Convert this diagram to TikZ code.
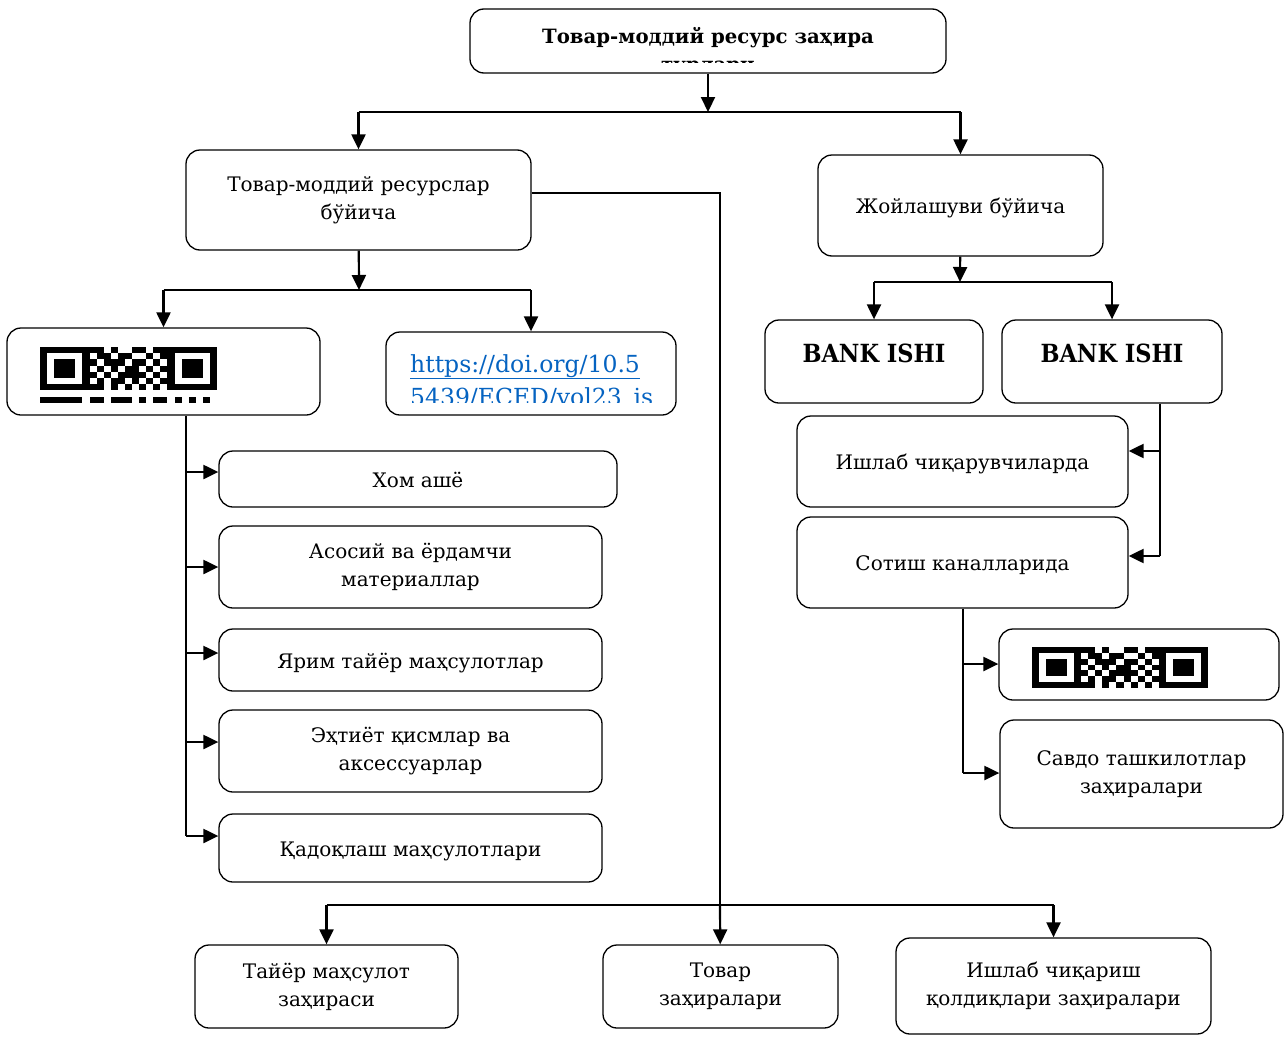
\documentclass[tikz,border=0pt]{standalone}
\usepackage{fontspec}
\setmainfont{DejaVu Serif}
\newfontfamily\condfont{DejaVu Serif Condensed}
\usetikzlibrary{arrows.meta}
\definecolor{doiblue}{HTML}{0563C1}
\tikzset{
	box/.style={draw, rounded corners=14pt, line width=1.3pt, align=center, inner sep=0pt},
	dims/.style 2 args={minimum width=#1pt, minimum height=#2pt},
	txt/.style={font=\fontsize{20}{28}\selectfont},
	oneline/.style={txt, text height=21pt, text depth=4.6pt},
	title/.style={font=\fontsize{19.7}{28}\selectfont\bfseries, align=center, inner sep=0pt},
	bank/.style={font=\condfont\fontsize{25}{30}\selectfont\bfseries, text height=18pt, text depth=16pt},
	link/.style={font=\fontsize{23.5}{33}\selectfont, text=doiblue, align=left, inner sep=0pt},
	arr/.style={line width=2.2pt, -{Triangle[length=15pt, width=14pt]}},
	trunk/.style={line width=2pt},
	thin/.style={line width=1.4pt},
}
\def\qrcells{7/0,8/0,10/0,13/0,14/0,16/0,17/0, 8/1,9/1,11/1,12/1,15/1,17/1, 7/2,9/2,10/2,11/2,13/2,14/2,16/2,
	8/3,10/3,12/3,13/3,15/3,17/3, 7/4,9/4,11/4,12/4,13/4,14/4,16/4, 8/5,10/5,11/5,13/5,15/5,17/5,
	7/6,8/6,10/6,12/6,14/6,16/6, 0/8,1/8,2/8,3/8,4/8,5/8,7/8,8/8,10/8,11/8,12/8,14/8,16/8,17/8,19/8,21/8,23/8}
\def\qrstrip(#1,#2)[#3,#4][#5]{%
	\begin{scope}[shift={(#1,#2)}, x=#3pt, y=-#4pt]
		\clip (0,0) rectangle (25,#5);
		\foreach \qx in {0,18}{
			\fill (\qx,0) rectangle ++(7,7);
			\fill[white] (\qx+1,1) rectangle ++(5,5);
			\fill (\qx+2,2) rectangle ++(3,3);
		}
		\foreach \qc/\qr in \qrcells
			\fill (\qc,\qr) rectangle ++(1,1);
	\end{scope}}

\begin{document}
\begin{tikzpicture}[x=1pt, y=-1pt]
	%%%%% START %%%%%
	\useasboundingbox (0,0) rectangle (1284,1036);
	
	\node[box, dims={476}{64}] (top) at (708,41) {};
	\begin{scope}
		\clip (472,11) rectangle (944,62);
		\node[title] (toptext) at (708,52) {Товар-моддий ресурс заҳира\\турлари};
	\end{scope}
	
	\node[box, txt, dims={345}{100}] (res) at (358.5,200) {Товар-моддий ресурслар\\бўйича};
	\node[box, oneline, dims={285}{101}] (loc) at (960.5,205.5) {Жойлашуви бўйича};
	
	\node[box, dims={313}{87}] (qra) at (163.5,371.5) {};
	\qrstrip(40,347)[7.08,6.2][8.87]
	
	\node[box, dims={290}{83}] (doi) at (531,373.5) {};
	\begin{scope}
		\clip (388,334) rectangle (674,402);
		\node[link, anchor=north west] (doitext) at (410,354) {\underline{https://doi.org/10.5}\\5439/ECED/vol23\_is};
	\end{scope}
	
	\node[box, bank, dims={218}{83}] (bank1) at (874,361.5) {BANK ISHI};
	\node[box, bank, dims={220}{83}] (bank2) at (1112,361.5) {BANK ISHI};
	\node[box, oneline, dims={331}{91}] (maker) at (962.5,461.5) {Ишлаб чиқарувчиларда};
	\node[box, oneline, dims={331}{91}] (sales) at (962.5,562.5) {Сотиш каналларида};
	\node[box, dims={280}{71}] (qrb) at (1139,664.5) {};
	\qrstrip(1032,647)[7.04,5.86][7]
	\node[box, txt, dims={283}{108}] (trade) at (1141.5,774) {Савдо ташкилотлар\\заҳиралари};
	
	\node[box, oneline, dims={398}{56}] (raw) at (418,479) {Хом ашё};
	\node[box, txt, dims={383}{82}] (aux) at (410.5,567) {Асосий ва ёрдамчи\\материаллар};
	\node[box, oneline, dims={383}{62}] (semi) at (410.5,660) {Ярим тайёр маҳсулотлар};
	\node[box, txt, dims={383}{82}] (spare) at (410.5,751) {Эҳтиёт қисмлар ва\\аксессуарлар};
	\node[box, oneline, dims={383}{68}] (pack) at (410.5,848) {Қадоқлаш маҳсулотлари};
	
	\node[box, txt, dims={263}{83}] (fin) at (326.5,986.5) {Тайёр маҳсулот\\заҳираси};
	\node[box, txt, dims={235}{83}] (stock) at (720.5,986.5) {Товар\\заҳиралари};
	\node[box, txt, dims={315}{96}] (waste) at (1053.5,986) {Ишлаб чиқариш\\қолдиқлари заҳиралари};
	
	% junctions
	\coordinate (j1) at (708,112);
	\coordinate (j2) at (359,290);
	\coordinate (j3) at (720,193);
	\coordinate (j4) at (720,905);
	\coordinate (j5) at (960,282);
	\coordinate (r1) at (1160,451);
	\coordinate (r2) at (1160,556);
	\coordinate (s1) at (963,664);
	\coordinate (s2) at (963,773);
	\coordinate (l1) at (186,472);
	\coordinate (l2) at (186,567);
	\coordinate (l3) at (186,653);
	\coordinate (l4) at (186,742);
	\coordinate (l5) at (186,836);
	
	\draw[arr] (top) -- (j1);
	\draw[trunk] (res.north |- j1) -- (loc.north |- j1);
	\draw[arr] (res.north |- j1) -- (res);
	\draw[arr] (loc.north |- j1) -- (loc);
	
	\draw[arr] (res) -- (j2);
	\draw[trunk] (qra.north |- j2) -- (doi.north |- j2);
	\draw[arr] (qra.north |- j2) -- (qra);
	\draw[arr] (doi.north |- j2) -- (doi);
	
	\draw[arr] (loc) -- (j5);
	\draw[trunk] (bank1.north |- j5) -- (bank2.north |- j5);
	\draw[arr] (bank1.north |- j5) -- (bank1);
	\draw[arr] (bank2.north |- j5) -- (bank2);
	
	\draw[thin] (bank2.south -| r1) -- (r2);
	\draw[arr] (r1) -- (r1 -| maker.east);
	\draw[arr] (r2) -- (r2 -| sales.east);
	
	\draw[thin] (sales.south -| s1) -- (s2);
	\draw[arr] (s1) -- (s1 -| qrb.west);
	\draw[arr] (s2) -- (s2 -| trade.west);
	
	\draw[thin] (qra.south -| l1) -- (l5);
	\draw[arr] (l1) -- (l1 -| raw.west);
	\draw[arr] (l2) -- (l2 -| aux.west);
	\draw[arr] (l3) -- (l3 -| semi.west);
	\draw[arr] (l4) -- (l4 -| spare.west);
	\draw[arr] (l5) -- (l5 -| pack.west);
	
	\draw[thin] (res.east |- j3) -- (j3) -- (j4);
	\draw[arr] (j4) -- (stock);
	\draw[thin] (fin.north |- j4) -- (waste.north |- j4);
	\draw[arr] (fin.north |- j4) -- (fin);
	\draw[arr] (waste.north |- j4) -- (waste);
	
	%%%%% END %%%%%
\end{tikzpicture}
\end{document}
